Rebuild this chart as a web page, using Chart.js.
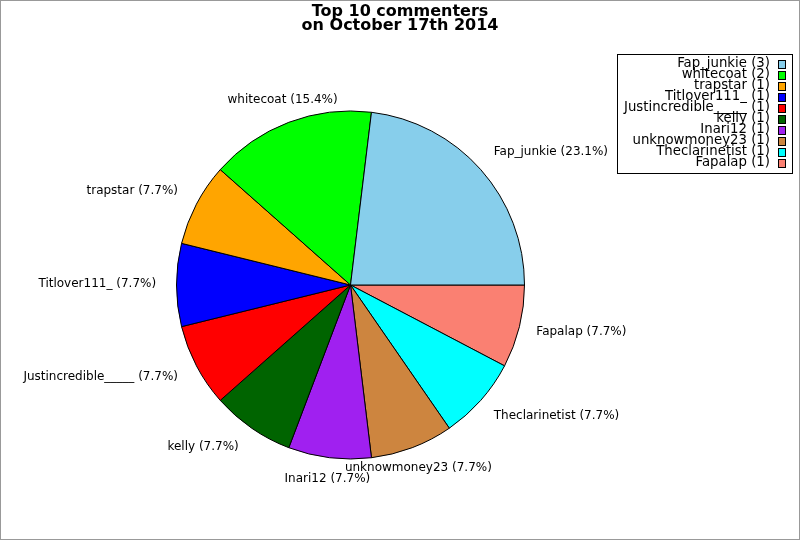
<!DOCTYPE html>
<html>
<head>
<meta charset="utf-8">
<script src="https://cdn.jsdelivr.net/npm/chart.js@4.4.0/dist/chart.umd.min.js"></script>
<style>
html,body{margin:0;padding:0;background:#fff;}
#wrap{width:800px;height:540px;position:relative;}
</style>
</head>
<body>
<div id="wrap"><canvas id="c" width="800" height="540"></canvas></div>
<script>
// ---- data ----
const commenters = ["Fap_junkie","whitecoat","trapstar","Titlover111_","Justincredible_____","kelly","Inari12","unknowmoney23","Theclarinetist","Fapalap"];
const commentCounts = [3,2,1,1,1,1,1,1,1,1];
const sliceColors = ["#87CEEB","#00FF00","#FFA500","#0000FF","#FF0000","#006400","#A020F0","#CD853F","#00FFFF","#FA8072"];
const titleLines = ["Top 10 commenters","on October 17th 2014"];

const total = commentCounts.reduce((a,b)=>a+b,0);
// drawn clockwise from 3 o'clock, so reverse to get counter-clockwise order
const revNames = commenters.slice().reverse();
const revCounts = commentCounts.slice().reverse();
const revColors = sliceColors.slice().reverse();

const FONT = "'DejaVu Sans', sans-serif";

const decor = {
  id:'decor',
  beforeDraw(chart){
    const ctx = chart.ctx;
    ctx.save();
    ctx.fillStyle = '#fff';
    ctx.fillRect(0,0,chart.width,chart.height);
    ctx.restore();
  },
  afterDraw(chart){
    const ctx = chart.ctx;
    ctx.save();
    // outer border
    ctx.strokeStyle = '#999';
    ctx.lineWidth = 1;
    ctx.strokeRect(0.5,0.5,chart.width-1,chart.height-1);
    // title
    ctx.fillStyle = '#000';
    ctx.font = "bold 16px " + FONT;
    ctx.textAlign = 'center';
    ctx.textBaseline = 'alphabetic';
    ctx.fillText(titleLines[0], 400, 16);
    ctx.fillText(titleLines[1], 400, 30);
    // slice labels
    const meta = chart.getDatasetMeta(0);
    ctx.font = "12px " + FONT;
    ctx.textBaseline = 'middle';
    meta.data.forEach((arc,i)=>{
      const p = arc.getProps(['x','y','startAngle','endAngle','outerRadius'],true);
      const mid = (p.startAngle + p.endAngle)/2;
      const R = p.outerRadius * 1.1;
      const c = Math.cos(mid), s = Math.sin(mid);
      let x = p.x + R*c;
      let y = p.y + R*s;
      y += Math.max(-5, Math.min(5, 8*s)) - 1;
      let align = Math.abs(c) < 0.45 ? 'center' : (c > 0 ? 'left' : 'right');
      if (align === 'right') x -= 3;
      ctx.textAlign = align;
      const pct = (revCounts[i]/total*100).toFixed(1);
      ctx.fillText(revNames[i] + ' (' + pct + '%)', x, y);
    });
    // legend
    const lx0 = 617.5, ly0 = 54.5, lx1 = 792.5, ly1 = 173.5;
    ctx.fillStyle = '#fff';
    ctx.fillRect(lx0, ly0, lx1-lx0, ly1-ly0);
    ctx.strokeStyle = '#000';
    ctx.strokeRect(lx0, ly0, lx1-lx0, ly1-ly0);
    ctx.font = "13.3px " + FONT;
    ctx.textAlign = 'right';
    ctx.textBaseline = 'middle';
    commenters.forEach((n,i)=>{
      const yc = 64 + i*10.97;
      ctx.fillStyle = '#000';
      ctx.fillText(n + ' (' + commentCounts[i] + ')', 770, yc);
      ctx.fillStyle = sliceColors[i];
      ctx.fillRect(778.5, Math.round(yc)-3.5, 7, 8);
      ctx.strokeStyle = '#000';
      ctx.strokeRect(778.5, Math.round(yc)-3.5, 7, 8);
    });
    ctx.restore();
  }
};

new Chart(document.getElementById('c'), {
  type:'pie',
  data:{
    labels: revNames,
    datasets:[{
      data: revCounts,
      backgroundColor: revColors,
      borderColor:'#000',
      borderWidth:1
    }]
  },
  options:{
    responsive:false,
    animation:false,
    devicePixelRatio:1,
    rotation:90,
    layout:{padding:{left:176,right:275,top:110,bottom:80}},
    plugins:{legend:{display:false},title:{display:false},tooltip:{enabled:false}},
    hover:{mode:null},
    events:[]
  },
  plugins:[decor]
});
</script>
</body>
</html>
